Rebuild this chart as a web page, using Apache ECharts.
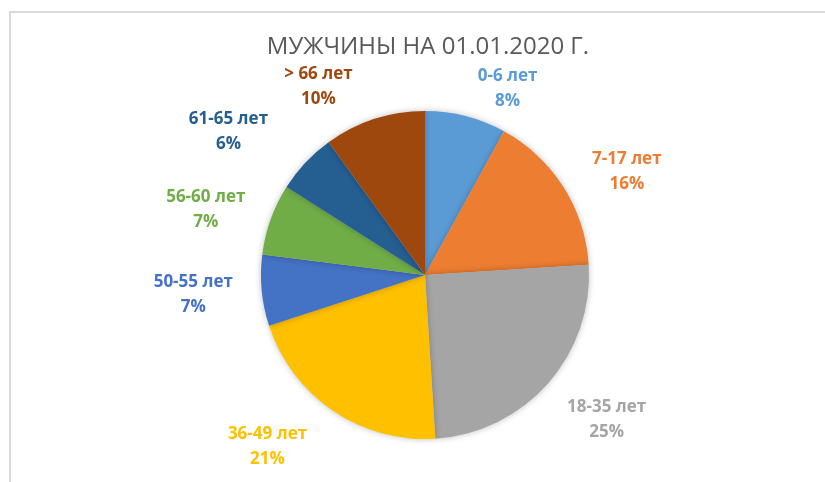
<!DOCTYPE html>
<html>
<head>
<meta charset="utf-8">
<script src="https://cdn.jsdelivr.net/npm/echarts@6/dist/echarts.min.js"></script>
<style>
  html, body { margin: 0; padding: 0; background: #ffffff; }
  #frame { position: absolute; left: 9px; top: 11px; width: 830px; height: 480px;
           border-left: 2px solid #d9d9d9; border-top: 2px solid #d9d9d9; }
  #main { position: absolute; left: 0; top: 0; width: 825px; height: 482px; }
</style>
</head>
<body>
<div id="frame"></div>
<div id="main"></div>
<script>
var chartDom = document.getElementById('main');
var myChart = echarts.init(chartDom, null);

var titleText = 'МУЖЧИНЫ НА 01.01.2020 Г.';
var ageGroups = ['0-6 лет', '7-17 лет', '18-35 лет', '36-49 лет', '50-55 лет', '56-60 лет', '61-65 лет', '> 66 лет'];
var shares = [8, 16, 25, 21, 7, 7, 6, 10];
var colors = ['#5b9bd5', '#ed7d31', '#a5a5a5', '#ffc000', '#4472c4', '#70ad47', '#255e91', '#9e480e'];
// small label nudges (px) so labels sit like Excel's best fit
var labelNudge = [[0, 0], [0, 0], [-7, 18], [-5, 13], [4, 2], [6, 0], [-12, -12], [-8, -6]];

var data = ageGroups.map(function (name, i) {
    return {
        name: name,
        value: shares[i],
        itemStyle: { color: colors[i] },
        label: { color: colors[i] }
    };
});

var option = {
    textStyle: {
        fontFamily: 'Open Sans'
    },
    title: {
        text: titleText,
        left: 423,
        textAlign: 'center',
        top: 30,
        textStyle: {
            fontFamily: 'Open Sans',
            fontSize: 24,
            fontWeight: 'normal',
            color: '#595959'
        }
    },
    series: [
    {
        type: 'pie',
        center: [425, 275],
        radius: 164,
        startAngle: 90,
        clockwise: true,
        data: data,
        itemStyle: {
            borderWidth: 0,
            shadowBlur: 6,
            shadowColor: 'rgba(0,0,0,0.25)'
        },
        label: {
            position: 'outside',
            formatter: '{t|{b}}\n{t|{c}%}',
            rich: {
                t: {
                    fontSize: 17,
                    fontWeight: 'bold',
                    lineHeight: 25,
                    align: 'center'
                }
            }
        },
        labelLine: {
            show: false,
            length: 28,
            length2: 0
        },
        labelLayout: function (params) {
            var n = labelNudge[params.dataIndex];
            return { dx: n[0], dy: n[1] };
        },
        emphasis: { disabled: true },
        animation: false
    }
    ]
};

myChart.setOption(option);
</script>
</body>
</html>
